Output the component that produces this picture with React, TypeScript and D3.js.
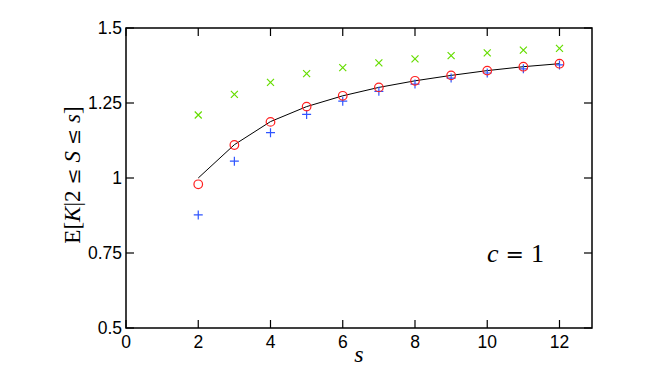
import React from "react";
import * as d3 from "d3";

const sValues = [2, 3, 4, 5, 6, 7, 8, 9, 10, 11, 12];
const greenX = [1.21, 1.279, 1.319, 1.348, 1.368, 1.384, 1.397, 1.408, 1.417, 1.426, 1.432];
const redCircle = [0.979, 1.11, 1.187, 1.238, 1.274, 1.302, 1.324, 1.342, 1.358, 1.371, 1.381];
const blackLine = [1.0, 1.111, 1.188, 1.238, 1.274, 1.302, 1.324, 1.342, 1.358, 1.371, 1.381];
const bluePlus = [0.877, 1.056, 1.151, 1.212, 1.256, 1.289, 1.313, 1.333, 1.35, 1.364, 1.377];
const xTicks = [0, 2, 4, 6, 8, 10, 12];
const yTicks = [0.5, 0.75, 1, 1.25, 1.5];
const yTickLabels = ["0.5", "0.75", "1", "1.25", "1.5"];

const W = 654;
const H = 369;
const L = 126, R = 592, T = 28, B = 328;

export default function App() {
  const x = d3.scaleLinear().domain([0, 12.9]).range([L, R]);
  const y = d3.scaleLinear().domain([0.5, 1.5]).range([B, T]);
  const line = d3.line<number>().x((_, i) => x(sValues[i])).y((d) => y(d));
  const tick = 8;
  const tickFont = "'Liberation Sans', Arial, Helvetica, sans-serif";
  const mathFont = "'Liberation Serif', 'Times New Roman', serif";
  const symFont = "'DejaVu Serif', serif";
  return (
    <svg width={W} height={H} style={{ position: "absolute", left: 0, top: 0, background: "#fff" }}>
      <rect x={0} y={0} width={W} height={H} fill="#fff" />
      {xTicks.map((t) => (
        <g key={"xt" + t}>
          <line x1={x(t)} x2={x(t)} y1={B} y2={B - tick} stroke="#000" strokeWidth={1.2} />
          <line x1={x(t)} x2={x(t)} y1={T} y2={T + tick} stroke="#000" strokeWidth={1.2} />
          <text x={x(t)} y={348} fontFamily={tickFont} fontSize={17.5} textAnchor="middle" fill="#000">
            {t}
          </text>
        </g>
      ))}
      {yTicks.map((t, i) => (
        <g key={"yt" + t}>
          <line x1={L} x2={L + tick} y1={y(t)} y2={y(t)} stroke="#000" strokeWidth={1.2} />
          <line x1={R} x2={R - tick} y1={y(t)} y2={y(t)} stroke="#000" strokeWidth={1.2} />
          <text x={122} y={y(t) + 6} fontFamily={tickFont} fontSize={17.5} textAnchor="end" fill="#000">
            {yTickLabels[i]}
          </text>
        </g>
      ))}
      <rect x={L} y={T} width={R - L} height={B - T} fill="none" stroke="#000" strokeWidth={1.5} />
      <path d={line(blackLine) || ""} fill="none" stroke="#000" strokeWidth={1} />
      {greenX.map((v, i) => {
        const cx = x(sValues[i]), cy = y(v), r = 3.5;
        return (
          <path key={"g" + i} d={`M${cx - r},${cy - r}L${cx + r},${cy + r}M${cx - r},${cy + r}L${cx + r},${cy - r}`}
            stroke="#66dd00" strokeWidth={1.2} fill="none" />
        );
      })}
      {bluePlus.map((v, i) => {
        const cx = x(sValues[i]), cy = y(v), r = 4.5;
        return (
          <path key={"b" + i} d={`M${cx - r},${cy}L${cx + r},${cy}M${cx},${cy - r}L${cx},${cy + r}`}
            stroke="#2f55ff" strokeWidth={1.2} fill="none" />
        );
      })}
      {redCircle.map((v, i) => (
        <circle key={"r" + i} cx={x(sValues[i])} cy={y(v)} r={4.3} fill="none" stroke="#ff2020" strokeWidth={1.2} />
      ))}
      <text x={(L + R) / 2} y={362} fontFamily={mathFont} fontStyle="italic" fontSize={24} textAnchor="middle" fill="#000">
        s
      </text>
      <text x={487} y={262} fontFamily={mathFont} fontSize={26} fill="#000">
        <tspan fontStyle="italic">c</tspan>
        <tspan fontFamily={symFont} fontSize={22}> = </tspan>
        <tspan>1</tspan>
      </text>
      <text transform={`translate(80,${(T + B) / 2 - 3}) rotate(-90)`} fontFamily={mathFont} fontSize={23} textAnchor="middle" fill="#000">
        <tspan>E[</tspan>
        <tspan fontStyle="italic">K</tspan>
        <tspan>|2</tspan>
        <tspan fontFamily={symFont} fontSize={19}> ≤ </tspan>
        <tspan fontStyle="italic">S</tspan>
        <tspan fontFamily={symFont} fontSize={19}> ≤ </tspan>
        <tspan fontStyle="italic">s</tspan>
        <tspan>]</tspan>
      </text>
    </svg>
  );
}
